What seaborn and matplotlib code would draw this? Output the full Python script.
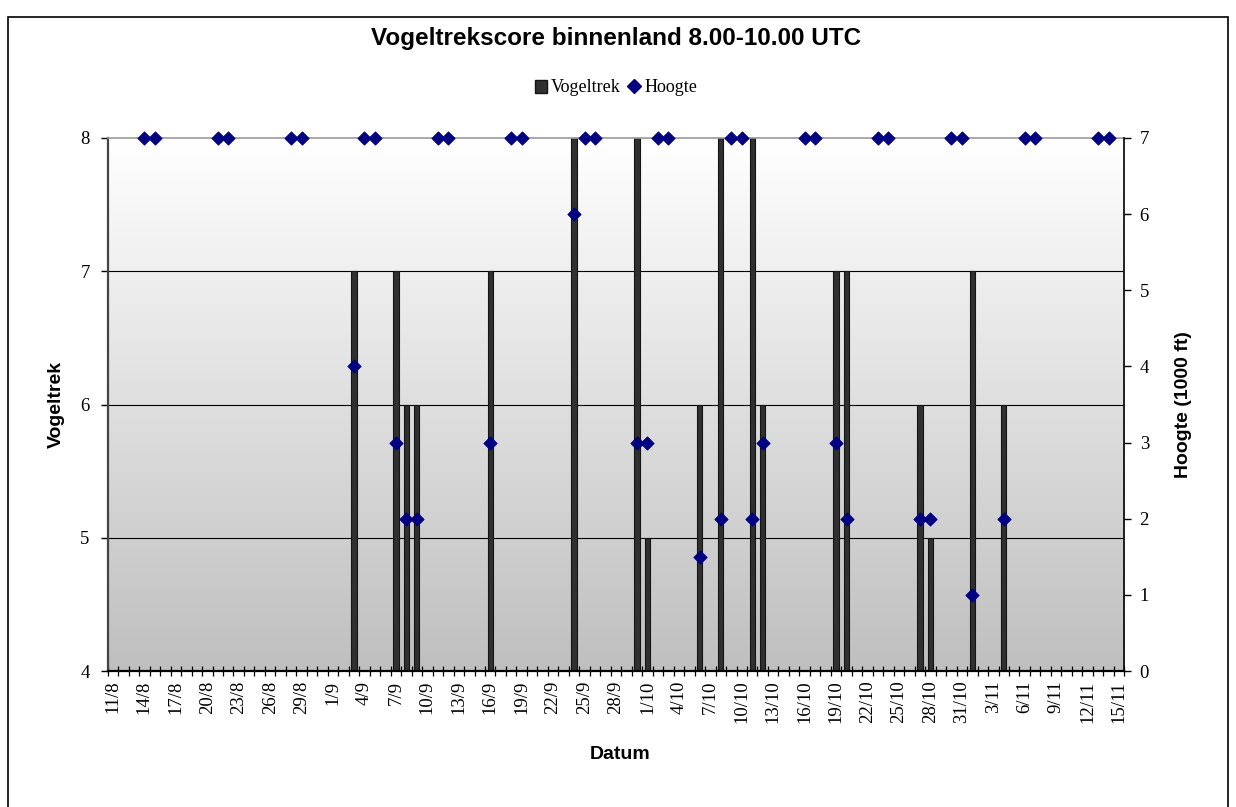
import numpy as np
import pandas as pd
import matplotlib
matplotlib.use("Agg")
import matplotlib.pyplot as plt
import seaborn as sns
from matplotlib.patches import Rectangle, Patch
from matplotlib.lines import Line2D
from matplotlib.colors import LinearSegmentedColormap

# ---------------- data ----------------
YEAR = 2010
start_date = "11/8"
end_date = "15/11"

trek_dates = ["3/9", "7/9", "8/9", "9/9", "16/9", "24/9", "30/9", "1/10", "6/10",
              "8/10", "11/10", "12/10", "19/10", "20/10", "27/10", "28/10", "1/11", "4/11"]
trek_values = [7, 7, 6, 6, 7, 8, 8, 5, 6, 8, 8, 6, 7, 7, 6, 5, 7, 6]

hoogte_dates = ["14/8", "15/8", "21/8", "22/8", "28/8", "29/8", "3/9", "4/9", "5/9",
                "7/9", "8/9", "9/9", "11/9", "12/9", "16/9", "18/9", "19/9", "24/9",
                "25/9", "26/9", "30/9", "1/10", "2/10", "3/10", "6/10", "8/10", "9/10",
                "10/10", "11/10", "12/10", "16/10", "17/10", "19/10", "20/10", "23/10",
                "24/10", "27/10", "28/10", "30/10", "31/10", "1/11", "4/11", "6/11",
                "7/11", "13/11", "14/11"]
hoogte_values = [7, 7, 7, 7, 7, 7, 4, 7, 7,
                 3, 2, 2, 7, 7, 3, 7, 7, 6,
                 7, 7, 3, 3, 7, 7, 1.5, 2, 7,
                 7, 2, 3, 7, 7, 3, 2, 7,
                 7, 2, 2, 7, 7, 1, 2, 7,
                 7, 7, 7]

tick_labels = ["11/8", "14/8", "17/8", "20/8", "23/8", "26/8", "29/8", "1/9", "4/9",
               "7/9", "10/9", "13/9", "16/9", "19/9", "22/9", "25/9", "28/9", "1/10",
               "4/10", "7/10", "10/10", "13/10", "16/10", "19/10", "22/10", "25/10",
               "28/10", "31/10", "3/11", "6/11", "9/11", "12/11", "15/11"]

left_ticks = [4, 5, 6, 7, 8]
right_ticks = [0, 1, 2, 3, 4, 5, 6, 7]


def day_index(labels):
    d = pd.to_datetime([f"{s}/{YEAR}" for s in labels], format="%d/%m/%Y")
    s = pd.to_datetime(f"{start_date}/{YEAR}", format="%d/%m/%Y")
    return np.asarray((d - s).days)


# ---------------- figure ----------------
sns.set_style("ticks")
plt.rcParams["font.family"] = ["Liberation Serif", "DejaVu Serif"]
for k in ["text.color", "axes.labelcolor", "xtick.color", "ytick.color"]:
    plt.rcParams[k] = "black"

fig = plt.figure(figsize=(12.36, 8.07), dpi=100)
L, R, T, B = 107.7, 1124.3, 138, 671
W, H = 1236, 807
ax = fig.add_axes([L / W, 1 - B / H, (R - L) / W, (B - T) / H])

n_days = int(day_index([end_date])[0])
xmin, xmax = -0.5, n_days + 0.5

# gradient background
cmap = LinearSegmentedColormap.from_list("bg", ["#ffffff", "#bfbfbf"])
ax.imshow(np.linspace(0, 1, 256).reshape(-1, 1), cmap=cmap, aspect="auto",
          extent=[0, 1, 0, 1], transform=ax.transAxes, zorder=0, origin="upper")

df_trek = pd.DataFrame({"dag": day_index(trek_dates), "Vogeltrek": trek_values})
sns.barplot(data=df_trek, x="dag", y="Vogeltrek", native_scale=True, width=0.5,
            color="#303030", saturation=1, edgecolor="#141414", linewidth=0.8,
            ax=ax, zorder=2)

ax.set_xlim(xmin, xmax)
ax.set_ylim(4, 8)
ax.set_yticks(left_ticks)
ax.set_yticklabels([str(v) for v in left_ticks], fontsize=13.5)
ax.yaxis.grid(True, color="black", linewidth=0.8)
ax.set_axisbelow(True)
gl = ax.get_ygridlines()
gl[0].set_visible(False)
gl[-1].set_visible(False)

ax.set_xticks(day_index(tick_labels))
ax.set_xticklabels(tick_labels, rotation=90, fontsize=13.5)
ax.set_xticks(np.arange(xmin, xmax + 0.01, 1), minor=True)
ax.tick_params(axis="x", which="major", length=0, pad=7, bottom=True)
ax.tick_params(axis="x", which="minor", direction="inout", length=7, width=0.9,
               color="black", bottom=True)
ax.tick_params(axis="y", direction="out", length=5, width=1, color="black",
               left=True, pad=8)

ax.spines["top"].set_color("#9a9a9a")
ax.spines["top"].set_linewidth(1.2)
ax.spines["left"].set_color("#444444")
ax.spines["left"].set_linewidth(1.6)
ax.spines["bottom"].set_color("black")
ax.spines["bottom"].set_linewidth(1.6)
ax.spines["right"].set_visible(False)

ax.set_xlabel("Datum", fontsize=14, fontweight="bold",
              fontfamily=["Liberation Sans", "DejaVu Sans"])
ax.xaxis.set_label_coords((620 - L) / (R - L), -(746 - B) / (B - T))
ax.set_ylabel("Vogeltrek", fontsize=14, fontweight="bold",
              fontfamily=["Liberation Sans", "DejaVu Sans"])
ax.yaxis.set_label_coords((65 - L) / (R - L), 0.5)

# secondary axis
ax2 = ax.twinx()
df_h = pd.DataFrame({"dag": day_index(hoogte_dates), "Hoogte": hoogte_values})
sns.scatterplot(data=df_h, x="dag", y="Hoogte", marker="D", color="#000080",
                edgecolor="#000080", linewidth=0.6, s=46, ax=ax2, zorder=5,
                clip_on=False, legend=False)
ax2.set_xlim(xmin, xmax)
ax2.set_ylim(0, 7)
ax2.set_yticks(right_ticks)
ax2.set_yticklabels([str(v) for v in right_ticks], fontsize=13.5)
ax2.tick_params(axis="y", direction="out", length=5, width=1, color="black",
                right=True, pad=6)
for s in ["left", "top", "bottom"]:
    ax2.spines[s].set_visible(False)
ax2.spines["right"].set_color("black")
ax2.spines["right"].set_linewidth(1.2)
ax2.set_xlabel("")
ax2.set_ylabel("Hoogte (1000 ft)", fontsize=14, fontweight="bold",
               fontfamily=["Liberation Sans", "DejaVu Sans"])
ax2.yaxis.set_label_coords((1175 - L) / (R - L), 0.5)

# title
fig.text((L + R) / 2 / W, 1 - 38 / H, "Vogeltrekscore binnenland 8.00-10.00 UTC",
         ha="center", va="center", fontsize=17.5, fontweight="bold",
         fontfamily=["Liberation Sans", "DejaVu Sans"])

# legend
handles = [Patch(facecolor="#303030", edgecolor="#141414", label="Vogeltrek"),
           Line2D([], [], marker="D", color="#000080", linestyle="none",
                  markersize=7, label="Hoogte")]
fig.legend(handles=handles, loc="center", bbox_to_anchor=((L + R) / 2 / W, 1 - 88 / H),
           ncol=2, frameon=False, fontsize=13, handlelength=0.7, handleheight=0.7,
           handletextpad=0.2, columnspacing=0.4)

# outer chart frame
fig.patches.append(Rectangle((8 / W, -0.05), (1228 - 8) / W, 1.05 - 17 / H,
                             transform=fig.transFigure, fill=False,
                             edgecolor="black", linewidth=1.2))

fig.savefig("out.png", dpi=100)
